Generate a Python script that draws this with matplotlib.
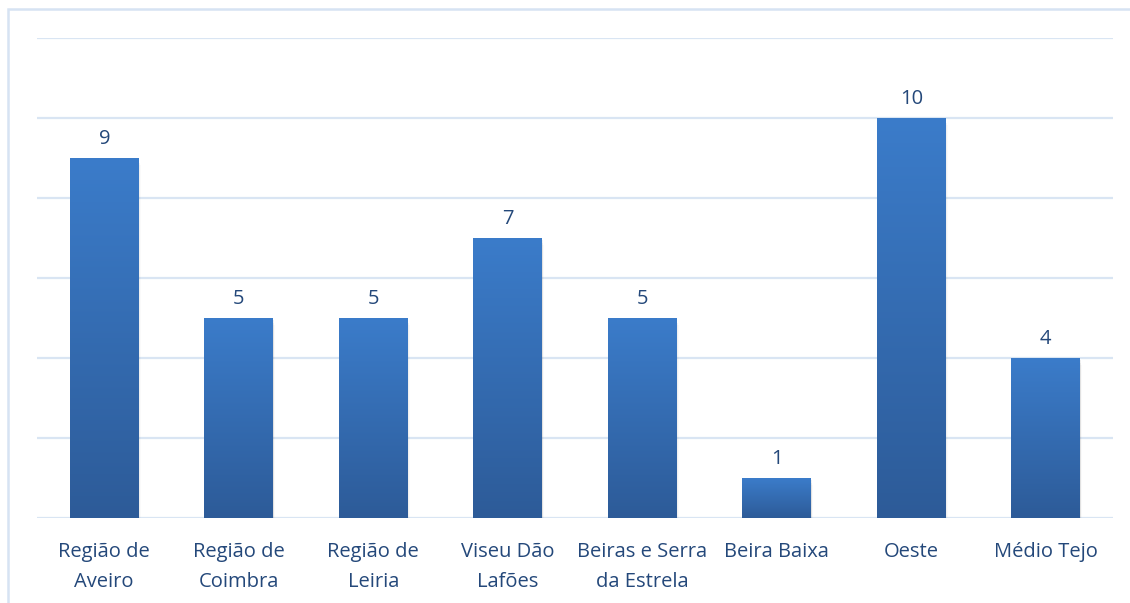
import matplotlib
matplotlib.use("Agg")
import matplotlib.pyplot as plt
import numpy as np
from matplotlib.colors import LinearSegmentedColormap
from matplotlib.patches import Rectangle

categories = ["Região de\nAveiro", "Região de\nCoimbra", "Região de\nLeiria", "Viseu Dão\nLafões",
              "Beiras e Serra\nda Estrela", "Beira Baixa", "Oeste", "Médio Tejo"]
values = [9, 5, 5, 7, 5, 1, 10, 4]

plt.rcParams['font.family'] = ['Open Sans', 'DejaVu Sans']
text_color = "#24487A"
grid_color = "#D9E5F3"

fig = plt.figure(figsize=(11.30, 6.03), dpi=100)
# outer border
fig.add_artist(Rectangle((8/1130, -0.1), 1.2, 1 - 9/603 + 0.1, transform=fig.transFigure,
                         fill=False, edgecolor="#D6E3F3", linewidth=1.8))
ax = fig.add_axes([37/1130, 1 - 518/603, (1113 - 37)/1130, (518 - 38)/603])
ax.set_xlim(-0.5, len(values) - 0.5)
ax.set_ylim(0, 12)
ax.set_yticks(np.arange(0, 13, 2))
ax.yaxis.grid(True, color=grid_color, linewidth=1.6)
ax.set_axisbelow(True)
for s in ax.spines.values():
    s.set_visible(False)
ax.tick_params(axis='y', left=False, labelleft=False)
ax.tick_params(axis='x', bottom=False, pad=14)

cmap = LinearSegmentedColormap.from_list("g", ["#2D5B98", "#3B7CCA"])
width = 0.51
grad = np.linspace(0, 1, 256).reshape(-1, 1)
bars = ax.bar(range(len(values)), values, width=width, color="none", zorder=3)
for i, (b, v) in enumerate(zip(bars, values)):
    x0 = b.get_x()
    # soft shadow
    for k, a in enumerate([0.06, 0.04, 0.02]):
        ax.add_patch(Rectangle((x0 + 0.005 * (k + 1), -0.06 * (k + 1)), width, v, color="black",
                               alpha=a, zorder=2.5, linewidth=0))
    ax.imshow(grad, extent=(x0, x0 + width, 0, v), origin="lower", cmap=cmap,
              aspect="auto", zorder=3, interpolation="bicubic")
    ax.text(i, v + 0.22, str(v), ha="center", va="bottom", fontsize=14.5, color=text_color)

ax.set_xlim(-0.5, len(values) - 0.5)
ax.set_ylim(0, 12)
ax.set_xticks(range(len(values)))
ax.set_xticklabels(categories, fontsize=14.5, color=text_color, linespacing=1.62, va="top")

fig.savefig("out.png", dpi=100)
